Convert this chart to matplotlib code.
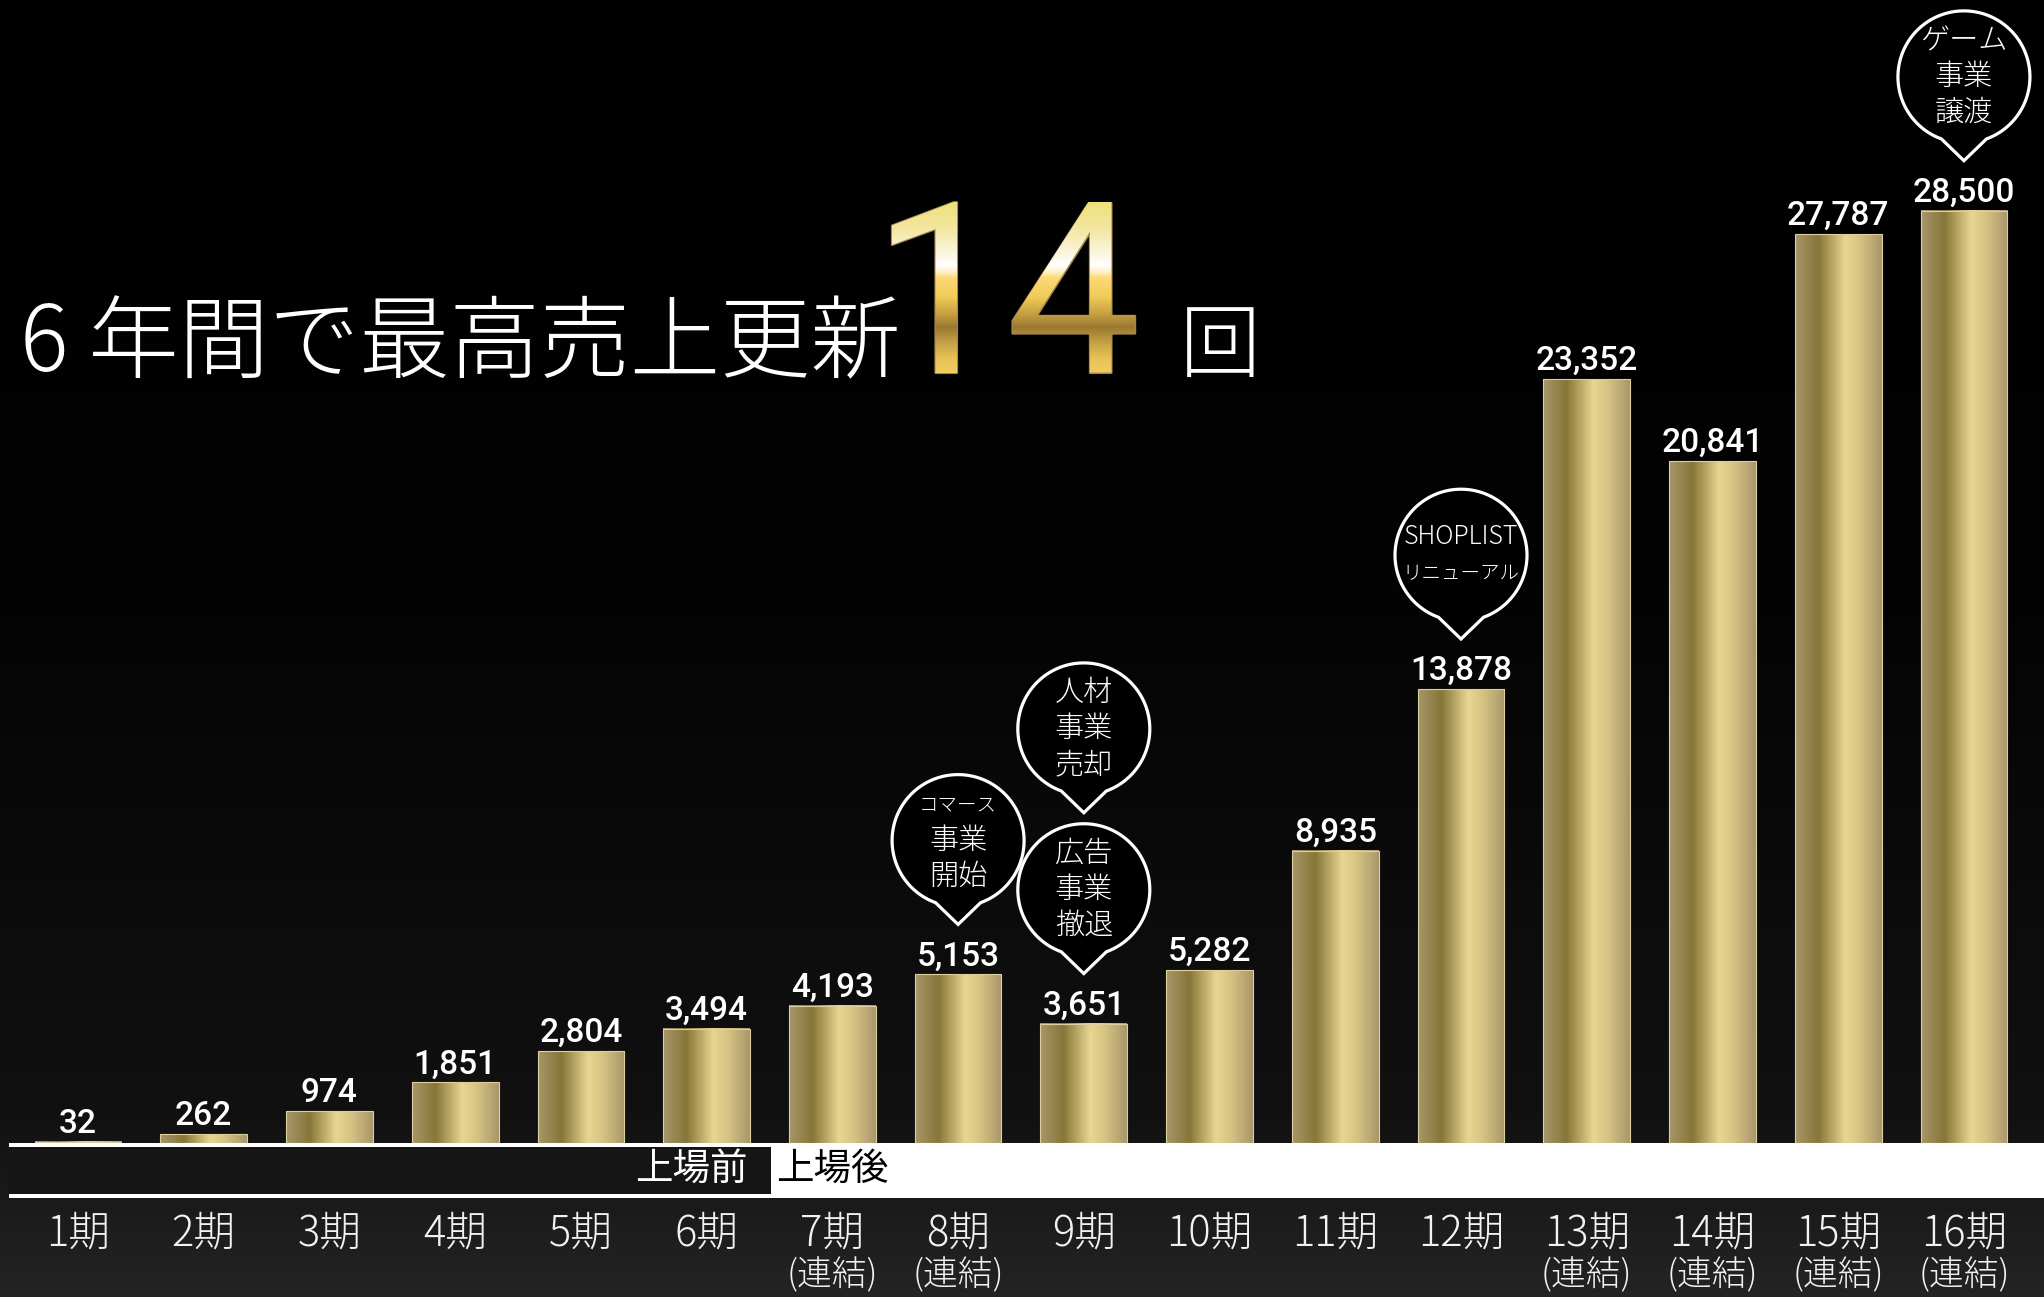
import numpy as np
import matplotlib
matplotlib.use("Agg")
import matplotlib.pyplot as plt
import matplotlib.patheffects as pe
from matplotlib.colors import LinearSegmentedColormap
from matplotlib.patches import Rectangle, Polygon
from matplotlib.transforms import Bbox, TransformedBbox, blended_transform_factory

plt.rcParams['font.family'] = ['Noto Sans CJK JP', 'DejaVu Sans']

# --- data ---
periods = ['1期', '2期', '3期', '4期', '5期', '6期', '7期', '8期',
           '9期', '10期', '11期', '12期', '13期', '14期', '15期', '16期']
sales = [32, 262, 974, 1851, 2804, 3494, 4193, 5153,
         3651, 5282, 8935, 13878, 23352, 20841, 27787, 28500]
consolidated = [False, False, False, False, False, False, True, True,
                False, False, False, False, True, True, True, True]
# (period index, bubble text lines)
events = [
    (7, ['コマース', '事業', '開始']),
    (8, ['広告', '事業', '撤退']),
    (8, ['人材', '事業', '売却']),
    (11, ['SHOPLIST', 'リニューアル']),
    (15, ['ゲーム', '事業', '譲渡']),
]
title_text = '6 年間で最高売上更新'
record_count = '14'
before_ipo, after_ipo = '上場前', '上場後'

W, H = 2044, 1297
fig = plt.figure(figsize=(W / 100, H / 100), dpi=100)

# --- background ---
bg = fig.add_axes([0, 0, 1, 1])
bg_cmap = LinearSegmentedColormap.from_list(
    'bg', [(0, '#000000'), (0.45, '#030303'), (0.86, '#111111'), (1, '#242424')])
bg.imshow(np.linspace(0, 1, 256).reshape(-1, 1), cmap=bg_cmap, aspect='auto',
          extent=(0, W, H, 0))
bg.set_xlim(0, W)
bg.set_ylim(H, 0)
bg.axis('off')

# --- bars ---
base_px = 1143
px_per_unit = (base_px - 210.7) / 28500
ax = fig.add_axes([15.1 / W, (H - base_px) / H, 2011.7 / W, base_px / H])
ax.set_facecolor('none')
ax.axis('off')

bar_cmap = LinearSegmentedColormap.from_list(
    'gold', [(0, '#a8966a'), (0.27, '#877638'), (0.58, '#e9d692'),
             (0.75, '#d6c283'), (1, '#a9976b')])
x = np.arange(len(sales))
width = 0.69
bars = ax.bar(x, sales, width=width, color='none', edgecolor='#dccfa0',
              linewidth=0.8, zorder=3)
grad = np.linspace(0, 1, 256).reshape(1, -1)
for rect, xi, v in zip(bars, x, sales):
    ax.imshow(grad, cmap=bar_cmap, aspect='auto', zorder=2,
              extent=(xi - width / 2, xi + width / 2, 0, v), clip_path=rect)
    ax.annotate(f'{v:,}', (xi, v), xytext=(0, 9), textcoords='offset pixels',
                ha='center', va='baseline', color='white', fontsize=24,
                family='Roboto', fontweight='medium')
ax.set_xlim(-0.5, 15.5)
ax.set_ylim(0, base_px / px_per_unit)

# --- overlay in pixel coordinates ---
ov = fig.add_axes([0, 0, 1, 1], zorder=5)
ov.set_facecolor('none')
ov.set_xlim(0, W)
ov.set_ylim(H, 0)
ov.axis('off')


def to_px(i, v):
    dx, dy = ax.transData.transform((i, v))
    return dx, H - dy


# listing band
ov.add_patch(Rectangle((9, base_px), W - 9, 55, facecolor='white', edgecolor='none'))
ov.add_patch(Rectangle((9, base_px + 3.5), 762, 47.5, facecolor='#151515',
                       edgecolor='none'))
ov.text(748, 1169, before_ipo, ha='right', va='center', color='white', fontsize=27)
ov.text(776, 1169, after_ipo, ha='left', va='center', color='black', fontsize=27)

# period labels
xlab = blended_transform_factory(ax.transData, ov.transData)
for i, (p, c) in enumerate(zip(periods, consolidated)):
    ov.text(i, 1234, p, transform=xlab, ha='center', va='center',
            color='#f2f2f2', fontsize=30, fontweight='light')
    if c:
        ov.text(i, 1275, '(連結)', transform=xlab, ha='center', va='center',
                color='#f2f2f2', fontsize=25, fontweight='light')

# speech bubbles
r = 66
line_size = {'コマース': 14, 'SHOPLIST': 18, 'リニューアル': 14}
stack = {}
for i, lines in events:
    cx, top = to_px(i, sales[i])
    level = stack.get(i, 0)
    stack[i] = level + 1
    tip = top - 50 - level * (2.27 * r + 11)
    cy = tip - 1.27 * r
    th = np.radians(np.linspace(20, 340, 160))
    pts = np.column_stack([cx + r * np.sin(th), cy + r * np.cos(th)])
    pts = np.vstack([pts, [cx, tip]])
    ov.add_patch(Polygon(pts, closed=True, facecolor='black', edgecolor='white',
                         linewidth=2.3, joinstyle='miter'))
    n = len(lines)
    for k, line in enumerate(lines):
        ov.text(cx, cy + (k - (n - 1) / 2) * 36, line, ha='center', va='center',
                color='white', fontsize=line_size.get(line, 21),
                fontweight='light')

# headline
ov.text(20, 371, title_text, ha='left', va='baseline', color='white',
        fontsize=65, fontweight='light')
ov.text(1180, 371, '回', ha='left', va='baseline', color='white',
        fontsize=58, fontweight='light')

# gold "14": outline first, then horizontal colour bands clipped on top
num_x = 872
num_kw = dict(ha='left', va='baseline', fontsize=172, family='Roboto',
              fontweight='normal')
ov.text(num_x, 373, record_count, color='#a08850',
        path_effects=[pe.withStroke(linewidth=1.5, foreground='#a08850')], **num_kw)
gold_cmap = LinearSegmentedColormap.from_list(
    'num', [(0, '#efe07a'), (0.15, '#f2e6a0'), (0.3, '#fbf6e0'), (0.37, '#ffffff'),
            (0.41, '#fbeec0'), (0.44, '#fcd878'), (0.55, '#f0cc58'),
            (0.65, '#c8a040'), (0.73, '#9a7830'), (0.83, '#c8a448'),
            (0.92, '#e8c458'), (1, '#f0cc60')])
y0, y1 = 198, 378
edges = np.arange(y0, y1 + 2, 2)
for a, b in zip(edges[:-1], edges[1:]):
    t = ((a + b) / 2 - 203) / 170
    txt = ov.text(num_x, 373, record_count, color=gold_cmap(np.clip(t, 0, 1)),
                  clip_on=True, **num_kw)
    txt.set_clip_path(None)
    txt.set_clip_box(TransformedBbox(
        Bbox.from_extents(840 / 100, (H - b) / 100, 1200 / 100, (H - a) / 100),
        fig.dpi_scale_trans))

fig.savefig('out.png', dpi=100, facecolor='black')
